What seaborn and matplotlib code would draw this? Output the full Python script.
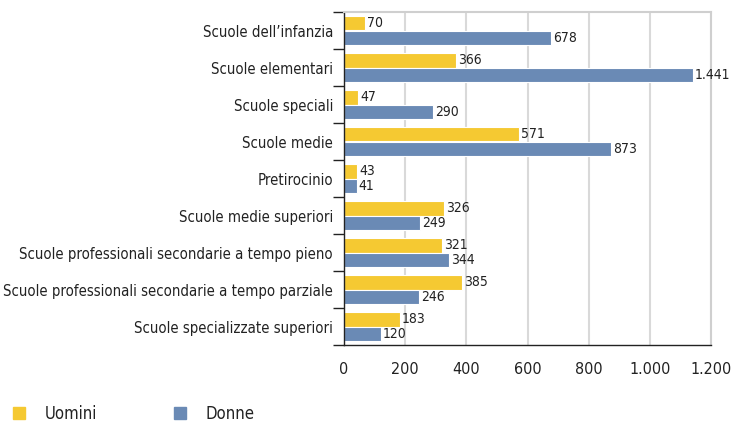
import pandas as pd
import matplotlib.pyplot as plt
import seaborn as sns
from matplotlib.ticker import FuncFormatter, FixedLocator
from matplotlib.lines import Line2D

# Dati
categorie = [
    "Scuole dell’infanzia",
    "Scuole elementari",
    "Scuole speciali",
    "Scuole medie",
    "Pretirocinio",
    "Scuole medie superiori",
    "Scuole professionali secondarie a tempo pieno",
    "Scuole professionali secondarie a tempo parziale",
    "Scuole specializzate superiori",
]
uomini = [70, 366, 47, 571, 43, 326, 321, 385, 183]
# la barra di "Scuole elementari" nell'originale arriva a ~1.141, l'etichetta dice 1.441
donne = [678, 1141, 290, 873, 41, 249, 344, 246, 120]
etichette_donne = ["678", "1.441", "290", "873", "41", "249", "344", "246", "120"]
x_ticks = [0, 200, 400, 600, 800, 1000, 1200]

giallo = "#F5C932"
blu = "#6A8AB5"

df = pd.DataFrame({
    "categoria": categorie * 2,
    "valore": uomini + donne,
    "sesso": ["Uomini"] * len(uomini) + ["Donne"] * len(donne),
})

sns.set_theme(style="white")
plt.rcParams["font.family"] = ["DejaVu Sans"]
plt.rcParams["font.stretch"] = "condensed"

fig = plt.figure(figsize=(7.31, 4.23), dpi=100)
ax = fig.add_axes([344 / 731, 1 - 345 / 423, (711 - 344) / 731, (345 - 12) / 423])

sns.barplot(data=df, y="categoria", x="valore", hue="sesso", orient="h",
            palette={"Uomini": giallo, "Donne": blu}, saturation=1, width=0.78,
            edgecolor="white", linewidth=0.8, legend=False, ax=ax)

ax.set_xlim(0, 1200)
ax.set_ylim(len(categorie) - 0.5, -0.5)

# etichette valori
ax.bar_label(ax.containers[0], labels=[str(v) for v in uomini], padding=1.5, fontsize=10, color="#222222")
ax.bar_label(ax.containers[1], labels=etichette_donne, padding=1.5, fontsize=10, color="#222222")

# assi
ax.xaxis.set_major_locator(FixedLocator(x_ticks))
ax.xaxis.set_major_formatter(FuncFormatter(lambda v, p: f"{int(v):,}".replace(",", ".")))
ax.tick_params(axis="x", length=8, width=1, color="#222222", labelsize=11.5, labelcolor="#222222", pad=4)

ax.set_yticks(range(len(categorie)))
ax.set_yticklabels(categorie)
ax.set_yticks([i - 0.5 for i in range(len(categorie) + 1)], minor=True)
ax.tick_params(axis="y", which="major", length=0, labelsize=10.7, labelcolor="#222222", pad=8)
ax.tick_params(axis="y", which="minor", length=8, width=1, color="#222222", left=True)

ax.set_xlabel("")
ax.set_ylabel("")

ax.grid(axis="x", color="#d9d9d9", linewidth=1.5)
ax.set_axisbelow(True)
for lato in ["left", "bottom"]:
    ax.spines[lato].set_color("#222222")
    ax.spines[lato].set_linewidth(1)
for lato in ["top", "right"]:
    ax.spines[lato].set_color("#cfcfcf")
    ax.spines[lato].set_linewidth(1.5)

# legenda
maniglie = [
    Line2D([], [], marker="s", linestyle="", markersize=8, color=giallo, label="Uomini"),
    Line2D([], [], marker="s", linestyle="", markersize=8, color=blu, label="Donne"),
]
fig.legend(handles=maniglie, loc="lower left", bbox_to_anchor=(-0.018, -0.035), ncol=2,
           frameon=False, fontsize=12, handletextpad=0.55, columnspacing=4.0,
           labelcolor="#222222")

fig.savefig("out.png", dpi=100)
